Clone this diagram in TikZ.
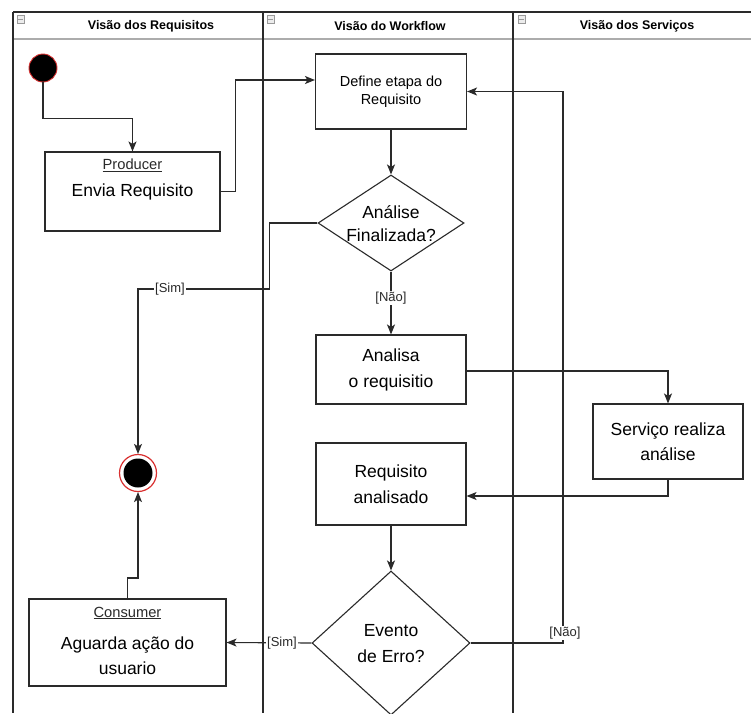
\documentclass[tikz,border=0pt]{standalone}
\usepackage{fontspec}
\setmainfont{Liberation Sans}
\usetikzlibrary{arrows.meta,shapes.geometric,calc}
\definecolor{ink}{HTML}{2A2A2A}
\definecolor{ringred}{HTML}{D93030}
\begin{document}
\begin{tikzpicture}[x=1pt,y=-1pt,
  flow/.style={draw=ink, line width=1.1pt, -{Stealth[length=10pt,width=8pt,inset=2.5pt]}},
  box/.style={rectangle, draw=ink, line width=1.1pt, fill=white, inner sep=0pt, align=center,
    font=\fontsize{17.5}{26}\selectfont},
  decision/.style={diamond, draw=ink, line width=1.1pt, fill=white, inner sep=0pt},
  dtext/.style={align=center, inner sep=0pt, font=\fontsize{17.5}{23}\selectfont},
  lbl/.style={fill=white, inner sep=1pt, font=\fontsize{13}{15}\selectfont, text=ink},
  lanel/.style={draw=ink, line width=1.2pt},
  headtxt/.style={font=\bfseries\fontsize{12.5}{15}\selectfont, text=black},
  tag/.style={font=\fontsize{14.7}{17}\selectfont, text=ink},
  icon/.style={draw=gray!80, fill=gray!15, line width=0.6pt, minimum width=7pt, minimum height=8pt, inner sep=0pt}
]
\useasboundingbox (0,0) rectangle (751,713);
\clip (0,0) rectangle (751,713);
\fill[white] (0,0) rectangle (751,713);

% swimlane frame
\draw[lanel] (13,12) -- (751,12);
\draw[draw=gray!65, line width=1.8pt] (13,39) -- (751,39);
\draw[lanel] (13,12) -- (13,713);
\draw[lanel] (263,12) -- (263,713);
\draw[lanel] (513,12) -- (513,713);

% lane headers
\node[icon] (ic1) at (20.5,19) {};
\node[icon] (ic2) at (270.5,19) {};
\node[icon] (ic3) at (521.5,19) {};
\foreach \i in {ic1,ic2,ic3}{\draw[gray!80, line width=0.6pt] ($(\i.west)+(1.5,0)$) -- ($(\i.east)+(-1.5,0)$);}
\node[headtxt] (h1) at (151,26) {Visão dos Requisitos};
\node[headtxt] (h2) at (390,26) {Visão do Workflow};
\node[headtxt] (h3) at (637,26) {Visão dos Serviços};

% start and end states
\node[circle, fill=black, draw=ringred, line width=0.9pt, minimum size=28pt, inner sep=0pt] (start) at (43,68) {};
\node[circle, fill=white, draw=ringred, line width=1.2pt, minimum size=37pt, inner sep=0pt] (endc) at (138,473) {};
\node[circle, fill=black, minimum size=29pt, inner sep=0pt] (endin) at (138,473) {};

% activities
\node[box, minimum width=175pt, minimum height=79pt] (producer) at (132.5,191.5) {};
\node[tag] (producer-t) at (132.5,165) {\underline{Producer}};
\node[font=\fontsize{17.5}{21}\selectfont] (producer-a) at (132.5,192) {Envia Requisito};

\node[box, minimum width=151pt, minimum height=75pt, font=\fontsize{14.5}{18}\selectfont] (define) at (391,91.5) {Define etapa do\\Requisito};

\node[decision, minimum width=146pt, minimum height=96pt] (dec1) at (391,223) {};
\node[dtext] (dec1-t) at (391,224) {Análise\\Finalizada?};

\node[box, minimum width=150pt, minimum height=69pt] (analisa) at (391,369.5) {Analisa\\o requisitio};

\node[box, minimum width=150pt, minimum height=75pt, font=\fontsize{17.5}{25}\selectfont] (servico) at (668,441.5) {Serviço realiza\\análise};

\node[box, minimum width=150pt, minimum height=82pt] (reqan) at (391,484) {Requisito\\analisado};

\node[decision, minimum width=158pt, minimum height=144pt] (dec2) at (391,643) {};
\node[dtext, font=\fontsize{17.5}{26}\selectfont] (dec2-t) at (391,644) {Evento\\de Erro?};

\node[box, minimum width=197pt, minimum height=87pt] (consumer) at (127.5,642.5) {};
\node[tag] (consumer-t) at (127.5,613) {\underline{Consumer}};
\node[font=\fontsize{17.5}{25}\selectfont, align=center] (consumer-a) at (127.5,656) {Aguarda ação do\\usuario};

% connectors
\coordinate (retn) at (563,91.5);
\draw[flow] (start.south) |- ($(producer.north)+(0,-33)$) -- (producer.north);
\draw[flow] (producer.east) -- ++(15,0) |- ($(define.west)+(0,-11.5)$);
\draw[flow] (define.south) -- (dec1.north);
\draw[flow] (dec1.west) -- ++(-48,0) |- (endc.north |- 0,289) -- (endc.north);
\draw[flow] (dec1.south) -- (analisa.north);
\draw[flow] ($(analisa.east)+(0,1.5)$) -| (servico.north);
\draw[flow] (servico.south) |- ($(reqan.east)+(0,12)$);
\draw[flow] (reqan.south) -- (dec2.north);
\draw[flow] (dec2.west) -- (consumer.east);
\draw[flow] (dec2.east) -| (retn) -- (define.east);
\draw[flow] (consumer.north) |- (endc.south |- 0,578) -- (endc.south);

% branch labels
\node[lbl] (sim1) at (170,289) {[Sim]};
\node[lbl] (nao1) at (391,298) {[Não]};
\node[lbl] (sim2) at (282,643) {[Sim]};
\node[lbl] (nao2) at (565,633) {[Não]};
\end{tikzpicture}
\end{document}
